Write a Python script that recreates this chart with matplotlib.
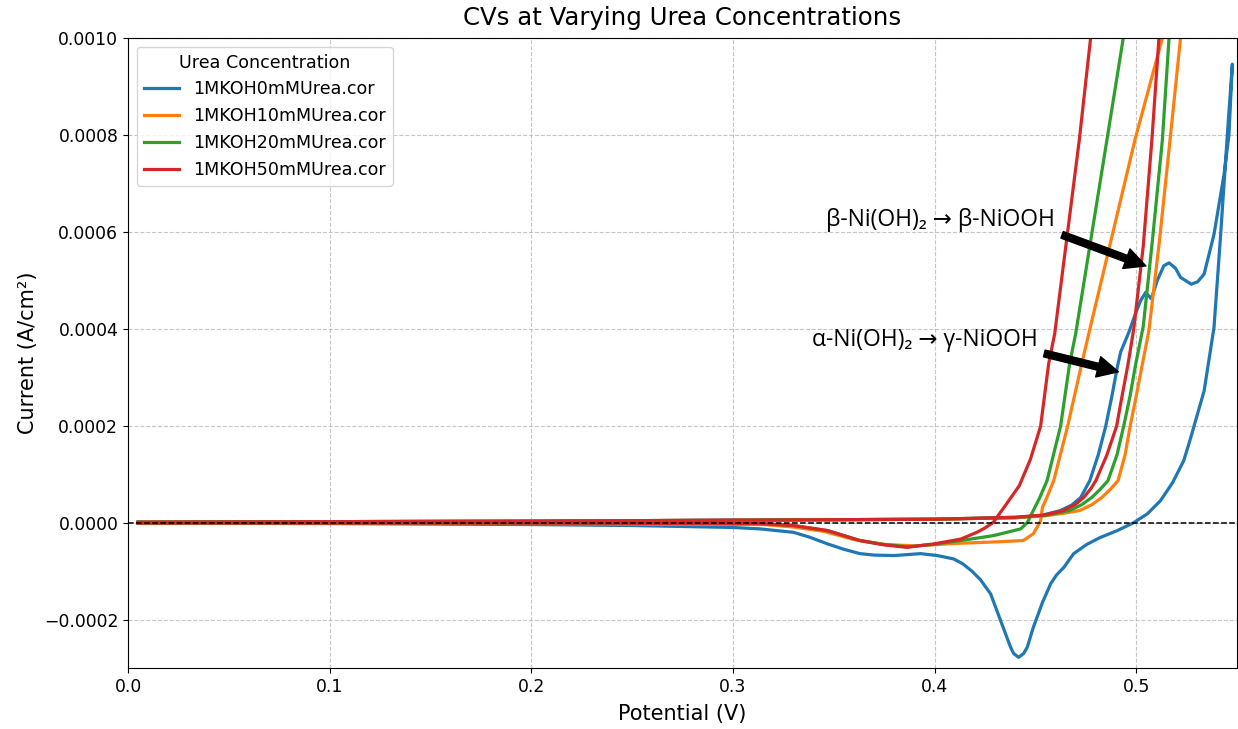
import matplotlib
matplotlib.use("Agg")
import matplotlib.pyplot as plt

# ---------------- data ----------------
labels = ["1MKOH0mMUrea.cor", "1MKOH10mMUrea.cor", "1MKOH20mMUrea.cor", "1MKOH50mMUrea.cor"]
colors = ["#1f77b4", "#ff7f0e", "#2ca02c", "#d62728"]

# 0 mM urea: forward scan then reverse scan
v_0mM = [0.005, 0.1, 0.2, 0.3, 0.4, 0.44, 0.4526, 0.4625, 0.468, 0.4725, 0.477, 0.4812, 0.4849,
         0.488, 0.4906, 0.4923, 0.4963, 0.5, 0.5022, 0.5047, 0.5075, 0.5105, 0.5137, 0.5163,
         0.5195, 0.522, 0.5273, 0.5305, 0.5337, 0.5386, 0.5436, 0.546, 0.5477,
         0.5452, 0.5419, 0.5386, 0.5337, 0.5271, 0.5236, 0.518, 0.512, 0.5055, 0.4988, 0.4906,
         0.482, 0.4755, 0.469, 0.4642, 0.4605, 0.4576, 0.4535, 0.449, 0.446, 0.4442, 0.4417,
         0.4392, 0.4377, 0.434, 0.4278, 0.4228, 0.4185, 0.414, 0.4095, 0.4015, 0.393, 0.38,
         0.37, 0.363, 0.355, 0.347, 0.338, 0.33, 0.3136, 0.3, 0.25, 0.2, 0.1, 0.005]
i_0mM = [0.000001, 0.000002, 0.000003, 0.000005, 0.000007, 0.00001, 0.0000144, 0.000025,
         0.000036, 0.000052, 0.0000866, 0.00014, 0.000199, 0.000262, 0.00032, 0.000352,
         0.000392, 0.000435, 0.000458, 0.000475, 0.000462, 0.0005, 0.00053, 0.000536,
         0.000525, 0.000506, 0.000492, 0.000497, 0.000513, 0.000595, 0.000719, 0.0008,
         0.000946,
         0.0008, 0.000595, 0.000403, 0.000272, 0.000176, 0.000128, 0.000082, 0.000045,
         0.000018, 0.0, -0.0000165, -0.000031, -0.000045, -0.000064, -0.000092, -0.000108,
         -0.000126, -0.000165, -0.000216, -0.000257, -0.000270, -0.000278, -0.000270,
         -0.000257, -0.000216, -0.000147, -0.000118, -0.0001, -0.000085, -0.000075,
         -0.000068, -0.000064, -0.000068, -0.000067, -0.000064, -0.000055, -0.000044,
         -0.00003, -0.00002, -0.000013, -0.00001, -0.000006, -0.000004, -0.000002, -0.000001]

# 10 mM urea
v_10mM = [0.005, 0.1, 0.2, 0.3, 0.4, 0.44, 0.455, 0.465, 0.472, 0.478, 0.483, 0.4875, 0.491,
          0.4945, 0.497, 0.5002, 0.5031, 0.5063, 0.5115, 0.5168, 0.522, 0.5286, 0.55,
          0.53, 0.513, 0.4994, 0.4765, 0.473, 0.466, 0.4591, 0.4555, 0.4535, 0.4526, 0.4505,
          0.449, 0.444, 0.429, 0.41, 0.39, 0.375, 0.36, 0.345, 0.33, 0.315, 0.2, 0.1, 0.005]
i_10mM = [0.000001, 0.000002, 0.000003, 0.000005, 0.000007, 0.00001, 0.000014, 0.00002,
          0.000025, 0.000037, 0.000052, 0.00007, 0.0000866, 0.00014, 0.000199, 0.000265,
          0.000328, 0.000396, 0.00058, 0.00079, 0.001, 0.00125, 0.003,
          0.0013, 0.001, 0.00079, 0.00039, 0.000328, 0.000199, 0.0000866, 0.00005, 0.0000316,
          0.000004, -0.000012, -0.000023, -0.000037, -0.00004, -0.000043, -0.000048,
          -0.000045, -0.000035, -0.000018, -0.000009, -0.000004, -0.000002, -0.000001,
          -0.000001]

# 20 mM urea
v_20mM = [0.005, 0.1, 0.2, 0.3, 0.4, 0.44, 0.455, 0.467, 0.473, 0.478, 0.482, 0.486, 0.4905,
          0.4938, 0.497, 0.4998, 0.5035, 0.508, 0.513, 0.5163, 0.5205, 0.55,
          0.517, 0.4936, 0.4855, 0.47, 0.467, 0.4625, 0.4558, 0.452, 0.449, 0.446, 0.4427,
          0.429, 0.413, 0.3995, 0.3864, 0.375, 0.363, 0.347, 0.33, 0.3136, 0.2, 0.1, 0.005]
i_20mM = [0.000001, 0.000002, 0.000003, 0.000005, 0.000007, 0.000011, 0.000015, 0.000025,
          0.000037, 0.000052, 0.000068, 0.0000866, 0.00014, 0.000199, 0.000262, 0.000328,
          0.000405, 0.00058, 0.00079, 0.001, 0.00125, 0.003,
          0.0016, 0.001, 0.00079, 0.00039, 0.000328, 0.000199, 0.0000866, 0.00005, 0.000025,
          0.0, -0.000013, -0.000027, -0.000037, -0.000045, -0.00005, -0.000045, -0.000037,
          -0.0000165, -0.000006, -0.000002, -0.000001, -0.000001, -0.000001]

# 50 mM urea
v_50mM = [0.005, 0.1, 0.2, 0.3, 0.4, 0.44, 0.455, 0.464, 0.47, 0.474, 0.4775, 0.48, 0.4855,
          0.4903, 0.4925, 0.496, 0.4988, 0.5035, 0.5078, 0.5113, 0.515, 0.55,
          0.4936, 0.4774, 0.4718, 0.4596, 0.4566, 0.4526, 0.4475, 0.442, 0.4345, 0.429, 0.425,
          0.421, 0.413, 0.3995, 0.3864, 0.375, 0.363, 0.347, 0.33, 0.3136, 0.2, 0.1, 0.005]
i_50mM = [0.000001, 0.000002, 0.000003, 0.000005, 0.000007, 0.000011, 0.000016, 0.000025,
          0.000038, 0.000052, 0.00007, 0.0000866, 0.00014, 0.000199, 0.00025, 0.000328,
          0.0004, 0.00057, 0.00079, 0.001, 0.00125, 0.004,
          0.0016, 0.001, 0.00079, 0.00039, 0.000328, 0.000199, 0.00013, 0.000076, 0.0000316,
          0.0, -0.000011, -0.00002, -0.000034, -0.000044, -0.000051, -0.000046, -0.000037,
          -0.0000165, -0.000006, -0.000002, -0.000001, -0.000001, -0.000001]

series_v = [v_0mM, v_10mM, v_20mM, v_50mM]
series_i = [i_0mM, i_10mM, i_20mM, i_50mM]

ann_texts = ["β-Ni(OH)₂ → β-NiOOH", "α-Ni(OH)₂ → γ-NiOOH"]
ann_xy = [(0.5072, 0.000526), (0.4933, 0.000309)]
ann_xytext = [(0.346, 0.000612), (0.339, 0.000365)]

# ---------------- figure ----------------
fig = plt.figure(figsize=(12.38, 7.29), dpi=100)
ax = fig.add_axes([128 / 1238, 1 - 668 / 729, (1237 - 128) / 1238, (668 - 38) / 729])

for v, i, lab, c in zip(series_v, series_i, labels, colors):
    ax.plot(v, i, color=c, lw=2.3, label=lab, solid_joinstyle="round")

ax.axhline(0, color="black", linestyle="--", lw=1.1)

ax.set_xlim(0, 0.55)
ax.set_ylim(-0.0003, 0.001)
ax.grid(True, linestyle="--", alpha=0.7)
ax.tick_params(labelsize=12.4)
ax.set_xlabel("Potential (V)", fontsize=15, labelpad=6)
ax.set_ylabel("Current (A/cm²)", fontsize=15)
ax.set_title("CVs at Varying Urea Concentrations", fontsize=17.6, pad=9)

leg = ax.legend(title="Urea Concentration", loc="upper left", fontsize=12.6,
                title_fontsize=12.6)

for txt, xy, xyt in zip(ann_texts, ann_xy, ann_xytext):
    ax.annotate(txt, xy=xy, xytext=xyt, fontsize=16.5,
                family=["Open Sans", "DejaVu Sans"],
                arrowprops=dict(facecolor="black", shrink=0.05, width=5,
                                headwidth=15, headlength=15))

fig.savefig("out.png", dpi=100)
